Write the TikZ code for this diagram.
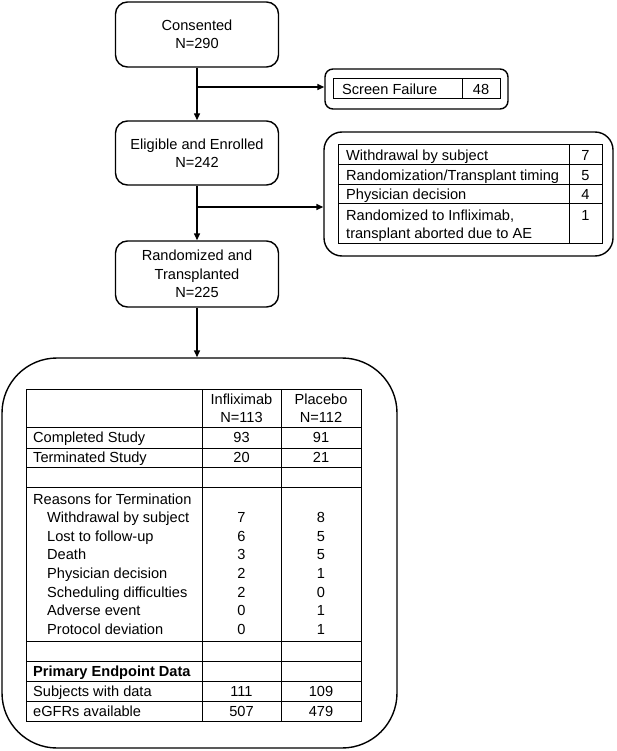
\documentclass[tikz,border=0pt]{standalone}
\usepackage{fontspec}
\setmainfont{Liberation Sans}
\usetikzlibrary{arrows.meta}
\begin{document}
\begin{tikzpicture}[x=1pt,y=-1pt,
  box/.style={draw, line width=1.4pt, rounded corners=12pt, align=center, inner sep=0pt},
  tl/.style={line width=1pt},
  lt/.style={anchor=base west, inner sep=0pt, yshift=-5.2pt},
  ct/.style={anchor=base, inner sep=0pt, yshift=-5.2pt},
  arr/.style={line width=1.4pt, -{Triangle[length=7pt,width=6pt]}},
  font=\fontsize{14.6}{18.4}\selectfont]
\useasboundingbox (0,0) rectangle (616,751);

% flow boxes
\node[box, minimum width=163pt, minimum height=65pt] (cons) at (197,34.5) {Consented\\N=290};
\node[box, minimum width=163pt, minimum height=64pt] (elig) at (197,153) {Eligible and Enrolled\\N=242};
\node[box, minimum width=163pt, minimum height=66pt] (rand) at (197,274) {Randomized and\\Transplanted\\N=225};

% screen failure
\node[box, rounded corners=8pt, minimum width=183pt, minimum height=40pt] (sf) at (416.5,89) {};
\draw[tl] (333,79) rectangle (500,99);
\draw[tl] (462,79) -- (462,99);
\node[lt] (sft) at (342,89) {Screen Failure};
\node[ct] (sfn) at (481,89) {48};

% withdrawal box
\node[box, rounded corners=18pt, minimum width=289pt, minimum height=124pt] (wd) at (468.5,194) {};
\draw[tl] (338,145) rectangle (602,243);
\foreach \yy in {165,185,204} \draw[tl] (338,\yy) -- (602,\yy);
\draw[tl] (569,145) -- (569,243);
\node[lt] (w1) at (346,155) {Withdrawal by subject};
\node[ct] (w1n) at (585.5,155) {7};
\node[lt] (w2) at (346,175) {Randomization/Transplant timing};
\node[ct] (w2n) at (585.5,175) {5};
\node[lt] (w3) at (346,194.5) {Physician decision};
\node[ct] (w3n) at (585.5,194.5) {4};
\node[lt] (w4) at (346,215) {Randomized to Infliximab,};
\node[lt] (w4b) at (346,233) {transplant aborted due to AE};
\node[ct] (w4n) at (585.5,215) {1};

% big box
\node[box, rounded corners=55pt, minimum width=395pt, minimum height=390pt] (main) at (199.5,553) {};
\draw[tl] (26,389) rectangle (361,721);
\draw[tl] (202,389) -- (202,721);
\draw[tl] (281,389) -- (281,721);
\foreach \yy in {427,448,467,487,641,661,681,701} \draw[tl] (26,\yy) -- (361,\yy);

\node[align=center, inner sep=0pt] (h1) at (241.5,408) {Infliximab\\N=113};
\node[align=center, inner sep=0pt] (h2) at (321,408) {Placebo\\N=112};

\node[lt] (c1) at (33,437.5) {Completed Study};
\node[ct] (c1a) at (241.5,437.5) {93};
\node[ct] (c1b) at (321,437.5) {91};
\node[lt] (c2) at (33,457.5) {Terminated Study};
\node[ct] (c2a) at (241.5,457.5) {20};
\node[ct] (c2b) at (321,457.5) {21};

\node[lt] (rh) at (33,499) {Reasons for Termination};
\node[lt] (r1) at (47,517.5) {Withdrawal by subject};
\node[ct] (r1a) at (241.5,517.5) {7};
\node[ct] (r1b) at (321,517.5) {8};
\node[lt] (r2) at (47,536) {Lost to follow-up};
\node[ct] (r2a) at (241.5,536) {6};
\node[ct] (r2b) at (321,536) {5};
\node[lt] (r3) at (47,554.5) {Death};
\node[ct] (r3a) at (241.5,554.5) {3};
\node[ct] (r3b) at (321,554.5) {5};
\node[lt] (r4) at (47,573) {Physician decision};
\node[ct] (r4a) at (241.5,573) {2};
\node[ct] (r4b) at (321,573) {1};
\node[lt] (r5) at (47,592) {Scheduling difficulties};
\node[ct] (r5a) at (241.5,592) {2};
\node[ct] (r5b) at (321,592) {0};
\node[lt] (r6) at (47,610.5) {Adverse event};
\node[ct] (r6a) at (241.5,610.5) {0};
\node[ct] (r6b) at (321,610.5) {1};
\node[lt] (r7) at (47,629) {Protocol deviation};
\node[ct] (r7a) at (241.5,629) {0};
\node[ct] (r7b) at (321,629) {1};

\node[lt, font=\fontsize{14.6}{18.4}\selectfont\bfseries] (pe) at (33,671) {Primary Endpoint Data};
\node[lt] (s1) at (33,691) {Subjects with data};
\node[ct] (s1a) at (241.5,691) {111};
\node[ct] (s1b) at (321,691) {109};
\node[lt] (s2) at (33,711) {eGFRs available};
\node[ct] (s2a) at (241.5,711) {507};
\node[ct] (s2b) at (321,711) {479};

% connectors
\coordinate (b1) at (197,87);
\coordinate (b2) at (197,207);
\draw[arr] (cons.south) -- (elig.north);
\draw[arr] (b1) -- (b1 -| sf.west);
\draw[arr] (elig.south) -- (rand.north);
\draw[arr] (b2) -- (b2 -| wd.west);
\draw[arr] (rand.south) -- (rand.south |- main.north);
\end{tikzpicture}
\end{document}
